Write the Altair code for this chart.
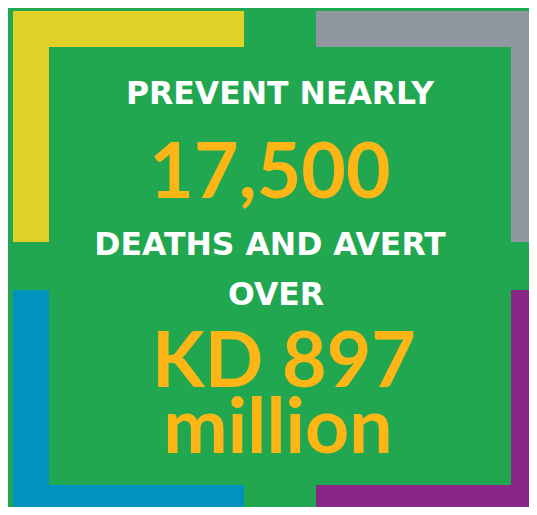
import altair as alt
import pandas as pd

# ---- content ----
headline_lines = ["PREVENT NEARLY", "DEATHS AND AVERT", "OVER"]
figure_lines = ["17,500", "KD 897", "million"]

# ---- layout (reference-pixel grid, 537 x 515) ----
headline_cx = [280, 270, 276]
headline_base = [104, 255, 305]
figure_cx = [270, 284, 278]
figure_base = [198, 387, 453]

bracket_names = ["yellow", "gray", "blue", "purple"]
bracket_colors = ["#E0D027", "#9197A0", "#0093BD", "#8B2689"]
# each bracket = two bars: (x, x2, y, y2)
bracket_bars = {
    "yellow": [(13, 244, 11, 47), (13, 49, 11, 242)],
    "gray":   [(316, 537, 11, 47), (511, 537, 11, 242)],
    "blue":   [(13, 49, 290, 515), (13, 244, 485, 515)],
    "purple": [(511, 537, 290, 515), (316, 537, 485, 515)],
}

GREEN = "#20A750"
ORANGE = "#FDB616"
W, H = 537, 515
M = 8  # page margin

rows = []
for name in bracket_names:
    for (x, x2, y, y2) in bracket_bars[name]:
        rows.append({"b": name, "x": x, "x2": x2, "y": y, "y2": y2})
bars = pd.DataFrame(rows)

xs = alt.Scale(domain=[0, W], range=[-M, W - M])
ys = alt.Scale(domain=[0, H], range=[-M, H - M])

rect = alt.Chart(bars).mark_rect().encode(
    x=alt.X("x:Q", scale=xs, axis=None),
    x2="x2",
    y=alt.Y("y:Q", scale=ys, axis=None),
    y2="y2",
    color=alt.Color("b:N", scale=alt.Scale(domain=bracket_names, range=bracket_colors), legend=None),
)

head = pd.DataFrame({"t": headline_lines, "x": headline_cx, "y": headline_base})
fig = pd.DataFrame({"t": figure_lines, "x": figure_cx, "y": figure_base})

head_txt = alt.Chart(head).mark_text(
    font="DejaVu Sans", fontWeight="bold", fontSize=31.5, color="white",
    align="center", baseline="alphabetic",
).encode(
    x=alt.X("x:Q", scale=xs, axis=None),
    y=alt.Y("y:Q", scale=ys, axis=None),
    text="t:N",
)

fig_txt = alt.Chart(fig).mark_text(
    font="Lato", fontWeight="bold", fontSize=77, color=ORANGE,
    align="center", baseline="alphabetic",
).encode(
    x=alt.X("x:Q", scale=xs, axis=None),
    y=alt.Y("y:Q", scale=ys, axis=None),
    text="t:N",
)

chart = alt.layer(rect, head_txt, fig_txt).properties(
    width=W - 2 * M, height=H - 2 * M, background=GREEN,
    autosize=alt.AutoSizeParams(type="none"), padding=0,
).configure_view(stroke=None, fill=GREEN)

chart.save("out.html", embed_options={"renderer": "svg", "actions": False})
